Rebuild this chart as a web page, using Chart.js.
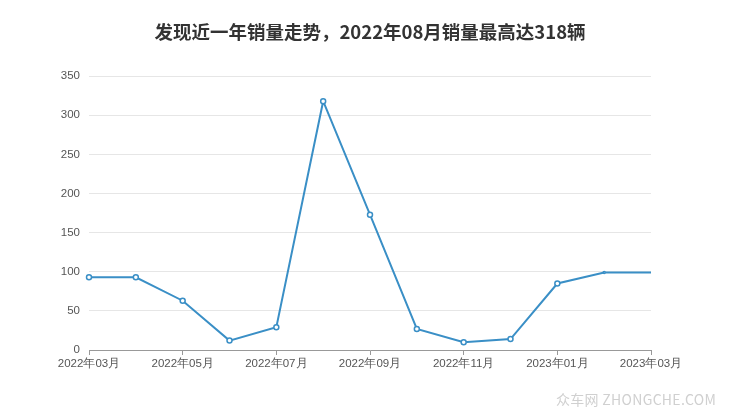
<!DOCTYPE html>
<html>
<head>
<meta charset="utf-8">
<script src="https://cdn.jsdelivr.net/npm/chart.js@4/dist/chart.umd.min.js"></script>
<style>
  html, body { margin: 0; padding: 0; background: #fff; }
  #wrap { position: relative; width: 740px; height: 417px; }
  #mark {
    position: absolute; left: 556px; top: 389px;
    font: 14px "Noto Sans CJK SC", "Liberation Sans", sans-serif;
    color: #d0d0d0; letter-spacing: 0.3px; white-space: nowrap;
  }
</style>
</head>
<body>
<div id="wrap">
  <canvas id="myLineChart" width="740" height="417"></canvas>
  <div id="mark">众车网 ZHONGCHE.COM</div>
</div>
<script>
// chart data
var months = ["2022年03月", "2022年04月", "2022年05月", "2022年06月", "2022年07月", "2022年08月",
              "2022年09月", "2022年10月", "2022年11月", "2022年12月", "2023年01月", "2023年02月", "2023年03月"];
var sales = [93, 93, 63, 12, 29, 318, 173, 27, 10, 14, 85, 99, 99];
var yTicks = [0, 50, 100, 150, 200, 250, 300, 350];

var lineColor = "#3a8fc6";

var chartdata = {
  labels: months,
  datasets: [
    {
      label: "销量",
      fill: false,
      tension: 0,
      borderColor: lineColor,
      borderWidth: 2,
      backgroundColor: "#fff",
      pointBackgroundColor: "#fff",
      pointBorderColor: lineColor,
      pointBorderWidth: 1.5,
      pointRadius: function(c) {
        if (c.dataIndex === sales.length - 1) return 0;
        if (c.dataIndex === sales.length - 2) return 1;
        return 2.5;
      },
      yAxisID: "y",
      data: sales
    }
  ]
};

var options = {
  responsive: false,
  animation: false,
  layout: { padding: 0 },
  plugins: {
    legend: { display: false },
    tooltip: { enabled: false },
    title: {
      display: true,
      text: "发现近一年销量走势，2022年08月销量最高达318辆",
      color: "#333",
      font: { family: "'Noto Sans CJK SC', sans-serif", size: 18.5, weight: "bold" },
      padding: { top: 21, bottom: 33 }
    }
  },
  scales: {
    x: {
      afterFit: function(s) { s.height = 67; },
      border: { display: true, color: "#999", width: 1 },
      grid: { drawOnChartArea: false, drawTicks: true, tickLength: 5, color: "#999" },
      ticks: {
        autoSkip: false,
        maxRotation: 0,
        padding: 2,
        color: "#555",
        font: { family: "'Liberation Sans', sans-serif", size: 11.5 },
        callback: function(v, i) { return i % 2 === 0 ? months[i] : null; }
      }
    },
    y: {
      min: 0,
      max: 350,
      afterFit: function(s) { s.width = 89; },
      afterBuildTicks: function(s) { s.ticks = yTicks.map(function(v) { return { value: v }; }); },
      border: { display: false },
      grid: { color: "#e6e6e6", drawTicks: false },
      ticks: {
        padding: 9,
        color: "#555",
        font: { family: "'Liberation Sans', sans-serif", size: 11.5 }
      }
    },
    // empty right axis, only keeps the right margin
    yRight: {
      position: "right",
      min: 0,
      max: 350,
      afterFit: function(s) { s.width = 89; },
      border: { display: false },
      grid: { drawOnChartArea: false, drawTicks: false },
      ticks: { display: false }
    }
  }
};

var ctx = document.getElementById("myLineChart");
var chart = new Chart(ctx, { type: "line", data: chartdata, options: options });
</script>
</body>
</html>
